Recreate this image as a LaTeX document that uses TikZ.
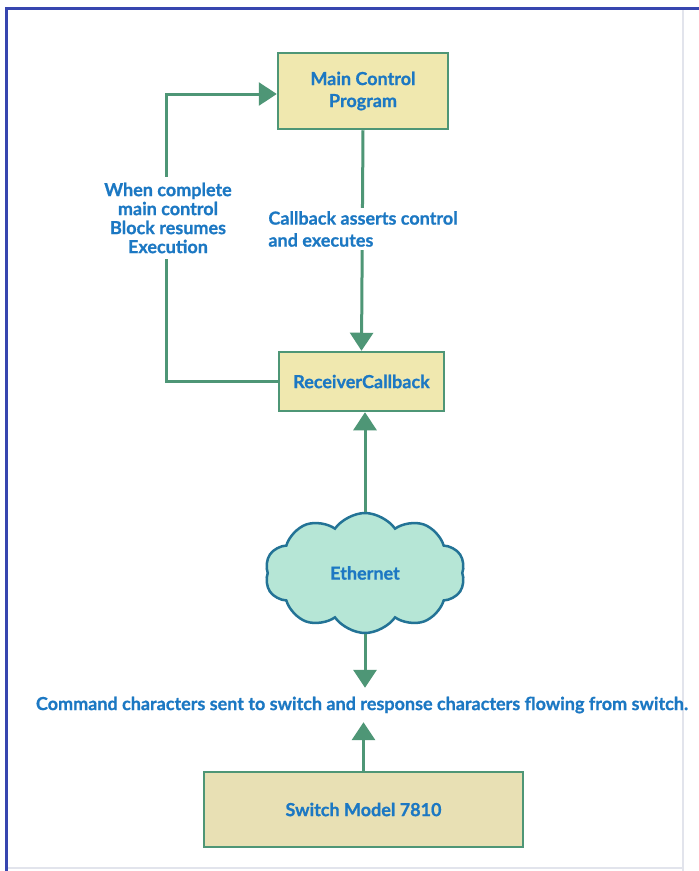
\documentclass[tikz,border=0pt]{standalone}
\usepackage{fontspec}
\setmainfont{Lato}[BoldFeatures={FakeBold=0.8}]
\usetikzlibrary{shapes.symbols,arrows.meta}
\definecolor{boxfill}{RGB}{240,232,175}
\definecolor{swfill}{RGB}{232,224,180}
\definecolor{edge}{RGB}{78,150,118}
\definecolor{txt}{RGB}{28,120,195}
\definecolor{cloudfill}{RGB}{182,230,214}
\definecolor{cloudedge}{RGB}{35,115,150}
\definecolor{framec}{RGB}{55,70,175}
\definecolor{faint}{RGB}{226,228,236}
\begin{document}
\begin{tikzpicture}[x=1pt,y=-1pt,
  box/.style={draw=edge, line width=2.5pt, fill=boxfill, inner sep=0pt, align=center,
    font=\bfseries\fontsize{18}{22}\selectfont, text=txt},
  lbl/.style={text=txt, font=\bfseries\fontsize{18}{19}\selectfont, fill=white, inner sep=3pt},
  conn/.style={draw=edge, line width=3pt, -{Triangle[width=23pt,length=18pt]}},
  plain/.style={draw=edge, line width=3pt}]
\useasboundingbox (0,0) rectangle (699,871);
\fill[white] (0,0) rectangle (699,871);
% frame
\draw[faint, line width=1.5pt] (683,8) -- (683,871);
\draw[faint, line width=1.5pt] (6,868) -- (683,868);
\draw[framec, line width=3pt] (6,871) -- (6,8) -- (699,8);
% nodes
\node[box, minimum width=170pt, minimum height=76pt] (main) at (363,91) {Main Control\\Program};
\node[box, minimum width=165pt, minimum height=59pt] (recv) at (361.5,381.5) {ReceiverCallback};
\node[cloud, cloud puffs=10, cloud puff arc=110, aspect=1.7, draw=cloudedge, line width=2.5pt,
  fill=cloudfill, minimum width=200pt, minimum height=120pt, inner sep=0pt,
  text=txt, font=\bfseries\fontsize{18}{19}\selectfont] (eth) at (365,573) {Ethernet};
\node[box, fill=swfill, minimum width=319pt, minimum height=75pt] (sw) at (363.5,809.5) {Switch Model 7810};
\node[text=txt, font=\bfseries\fontsize{18}{19}\selectfont, inner sep=0pt, minimum height=34pt] (cmd) at (362,705)
  {Command characters sent to switch and response characters flowing from switch.};
% connectors
\draw[conn] (main.south) -- (recv.north);
\draw[conn] (recv.west) -- (166,381.5) -- (166,94) -- (main.west |- 0,94);
\draw[conn] (eth.north) -- (eth.north |- recv.south);
\draw[conn] (eth.south) -- (eth.south |- cmd.north);
\draw[conn] (sw.north) -- (sw.north |- cmd.south);
% labels over connectors
\node[lbl, align=left, font=\bfseries\fontsize{18}{22}\selectfont] (cb) at (363,229) {Callback asserts control\\and executes};
\node[lbl, align=center, inner sep=6pt] (wc) at (168,218) {When complete\\main control\\Block resumes\\Execution};
\end{tikzpicture}
\end{document}
